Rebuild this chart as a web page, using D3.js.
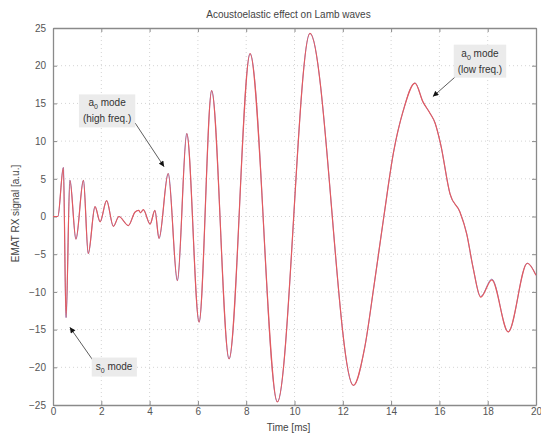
<!DOCTYPE html>
<html>
<head>
  <meta charset="utf-8">
  <script src="https://d3js.org/d3.v7.min.js"></script>
  <style>
    body { margin: 0; background: #fff; }
    text { font-family: "Liberation Sans", Arial, sans-serif; }
  </style>
</head>
<body>
<div id="chart"></div>
<script>
// values (time in ms, signal in a.u.)
var timeMs = [0, 0.2, 0.43, 0.54, 0.70, 0.95, 1.26, 1.46, 1.74, 1.95, 2.22, 2.50, 2.73, 3.12, 3.40, 3.55, 3.62, 3.74, 4.02, 4.22, 4.39,
  4.77, 5.15, 5.54, 6.05, 6.57, 7.29, 8.16, 9.29, 10.64, 12.44, 12.9, 13.3, 13.7, 14.1, 14.5, 14.99, 15.32, 15.61, 15.82, 16.05,
  16.44, 16.85, 17.13, 17.39, 17.71, 18.17, 18.85, 19.64, 20];
var signalRed = [0, 0, 6.5, -13.4, 4.8, -3.0, 4.8, -4.9, 1.3, -0.7, 2.1, -1.3, 0.0, -1.2, 0.6, 0.8, 0.5, 0.9, -1.0, 0.8, -2.9,
  5.7, -8.5, 11.0, -14.0, 16.7, -18.9, 21.6, -24.6, 24.3, -22.4, -17.5, -9.0, 0.0, 8.5, 14.0, 17.7, 15.2, 13.7, 12.4, 9.6,
  3.0, 0.6, -2.3, -6.7, -10.7, -8.4, -15.3, -6.2, -7.8];
var signalBlue = [0, 0, 6.5, -13.4, 4.8, -3.0, 4.8, -4.9, 1.3, -0.7, 2.1, -1.3, 0.0, -1.2, 0.6, 0.8, 0.5, 0.9, -1.0, 0.8, -2.9,
  5.7, -8.5, 11.0, -14.0, 16.7, -18.9, 21.6, -24.6, 24.3, -22.4, -17.5, -9.0, 0.0, 8.5, 14.0, 17.7, 15.2, 13.7, 12.4, 9.6,
  3.0, 0.6, -2.3, -6.7, -10.6, -8.3, -15.3, -6.2, -7.8];
var xTicks = [0, 2, 4, 6, 8, 10, 12, 14, 16, 18, 20];
var yTicks = [-25, -20, -15, -10, -5, 0, 5, 10, 15, 20, 25];

var margin = {top: 28, right: 5, bottom: 28, left: 53},
    width = 541 - margin.left - margin.right,
    height = 433 - margin.top - margin.bottom;

var svg = d3.select("#chart")
  .append("svg")
    .attr("width", 541)
    .attr("height", 433)
  .append("g")
    .attr("transform", "translate(" + margin.left + "," + margin.top + ")");

var x = d3.scaleLinear().domain([0, 20]).range([0, width]);
var y = d3.scaleLinear().domain([-25, 25]).range([height, 0]);

// dotted grid
svg.append("g").selectAll("line")
  .data(xTicks.slice(1, -1))
  .enter().append("line")
    .attr("x1", d => x(d)).attr("x2", d => x(d))
    .attr("y1", 0).attr("y2", height)
    .attr("stroke", "#d4d4d4").attr("stroke-dasharray", "1,3");
svg.append("g").selectAll("line")
  .data(yTicks.slice(1, -1))
  .enter().append("line")
    .attr("x1", 0).attr("x2", width)
    .attr("y1", d => y(d)).attr("y2", d => y(d))
    .attr("stroke", "#d4d4d4").attr("stroke-dasharray", "1,3");

// axes, matlab style: ticks inside, box all round
function styleAxis(g) {
  g.select(".domain").attr("stroke", "#8a8a8a").attr("stroke-width", 1.3);
  g.selectAll(".tick line").attr("stroke", "#8a8a8a");
  g.selectAll(".tick text").attr("fill", "#555").style("font-size", "10px");
}
svg.append("g")
  .attr("transform", "translate(0," + height + ")")
  .call(d3.axisBottom(x).tickValues(xTicks).tickSizeInner(-4).tickSizeOuter(0).tickPadding(3))
  .call(styleAxis);
svg.append("g")
  .call(d3.axisTop(x).tickValues(xTicks).tickSizeInner(-4).tickSizeOuter(0).tickFormat(""))
  .call(styleAxis);
svg.append("g")
  .call(d3.axisLeft(y).tickValues(yTicks).tickSizeInner(-4).tickSizeOuter(0).tickPadding(7))
  .call(styleAxis);
svg.append("g")
  .attr("transform", "translate(" + width + ",0)")
  .call(d3.axisRight(y).tickValues(yTicks).tickSizeInner(-4).tickSizeOuter(0).tickFormat(""))
  .call(styleAxis);

// signals
var signalLine = d3.line()
  .x((d, i) => x(timeMs[i]))
  .y(d => y(d))
  .curve(d3.curveMonotoneX);
svg.append("path")
  .datum(signalBlue)
  .attr("d", signalLine)
  .attr("fill", "none")
  .attr("stroke", "#7f8fd8")
  .attr("stroke-width", 0.9);
svg.append("path")
  .datum(signalRed)
  .attr("d", signalLine)
  .attr("fill", "none")
  .attr("stroke", "#e35a5e")
  .attr("stroke-width", 1.2);

// title and labels
svg.append("text")
  .attr("x", width / 2 - 6).attr("y", -10)
  .attr("text-anchor", "middle")
  .attr("fill", "#444").style("font-size", "10px")
  .text("Acoustoelastic effect on Lamb waves");
svg.append("text")
  .attr("x", width / 2 - 6).attr("y", height + 26)
  .attr("text-anchor", "middle")
  .attr("fill", "#444").style("font-size", "10px")
  .text("Time [ms]");
svg.append("text")
  .attr("transform", "translate(-34," + (height / 2 - 3) + ")rotate(-90)")
  .attr("text-anchor", "middle")
  .attr("fill", "#444").style("font-size", "10px")
  .text("EMAT RX signal [a.u.]");

// annotations
svg.append("defs").append("marker")
  .attr("id", "head")
  .attr("viewBox", "0 0 10 10")
  .attr("refX", 10).attr("refY", 5)
  .attr("markerWidth", 9).attr("markerHeight", 7)
  .attr("orient", "auto")
  .append("path").attr("d", "M0,0L10,5L0,10Z").attr("fill", "#111");

var notes = [
  {lines: ["a", "(high freq.)"], tx: 2.24, ty: 15.0, ax: 3.4, ay: 12.4, hx: 4.6, hy: 6.6},
  {lines: ["a", "(low freq.)"], tx: 17.68, ty: 21.6, ax: 16.65, ay: 18.5, hx: 15.73, hy: 15.9},
  {lines: ["s"], tx: 2.53, ty: -19.9, ax: 1.66, ay: -19.1, hx: 0.70, hy: -14.7}
];

notes.forEach(function(n) {
  svg.append("line")
    .attr("x1", x(n.ax)).attr("y1", y(n.ay))
    .attr("x2", x(n.hx)).attr("y2", y(n.hy))
    .attr("stroke", "#333").attr("stroke-width", 0.8)
    .attr("marker-end", "url(#head)");
  var g = svg.append("g");
  var box = g.append("rect").attr("fill", "#ebebeb");
  var t = g.append("text")
    .attr("text-anchor", "middle")
    .attr("fill", "#333").style("font-size", "10px");
  var first = t.append("tspan").attr("x", x(n.tx)).attr("y", y(n.ty) + 3);
  first.append("tspan").text(n.lines[0]);
  first.append("tspan").attr("dy", 3).style("font-size", "7px").text("0");
  first.append("tspan").attr("dy", -3).text(" mode");
  if (n.lines[1]) {
    t.append("tspan").attr("x", x(n.tx)).attr("y", y(n.ty) + 19).text(n.lines[1]);
  }
  var bb = t.node().getBBox();
  box.attr("x", bb.x - 4).attr("y", bb.y - 3)
    .attr("width", bb.width + 8).attr("height", bb.height + 6);
});
</script>
</body>
</html>
